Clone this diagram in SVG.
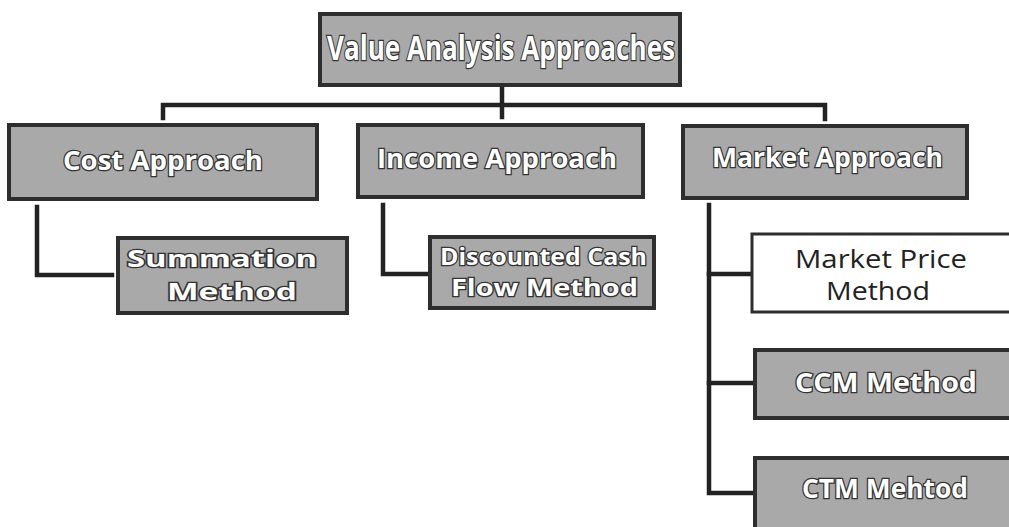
<svg xmlns="http://www.w3.org/2000/svg" width="1009" height="527" viewBox="0 0 1009 527">
<style>
.box{fill:#a9a9a9;stroke:#2e2e2e;stroke-width:4}
.wbox{fill:#ffffff;stroke:#2e2e2e;stroke-width:3}
.lbl{font-family:"Open Sans","Liberation Sans",sans-serif;font-weight:700;fill:#ffffff;stroke:#333333;stroke-width:2.5;paint-order:stroke;text-anchor:start}
.dark{font-family:"Open Sans","Liberation Sans",sans-serif;font-size:25px;fill:#222222;text-anchor:start}
.conn{fill:none;stroke:#222222;stroke-width:4.5;stroke-linejoin:miter;stroke-linecap:square}
</style>
<rect width="1009" height="527" fill="#ffffff"/>
<g id="connectors">
<path class="conn" d="M502,86 V117"/>
<path class="conn" d="M163,118 V105 H825 V119"/>
<path class="conn" d="M37,207 V275 H112"/>
<path class="conn" d="M383,205 V274 H430"/>
<path class="conn" d="M709,205 V493 H752"/>
<path class="conn" d="M709,274 H752"/>
<path class="conn" d="M709,383 H752"/>
</g>
<g id="node-value">
<rect class="box" x="320" y="14" width="360" height="71"/>
<text class="lbl" x="327" y="60" font-size="34" textLength="348" lengthAdjust="spacingAndGlyphs">Value Analysis Approaches</text>
</g>
<g id="node-cost">
<rect class="box" x="9" y="125" width="308" height="74"/>
<text class="lbl" x="63" y="170" font-size="27" textLength="200" lengthAdjust="spacingAndGlyphs">Cost Approach</text>
</g>
<g id="node-income">
<rect class="box" x="358" y="125" width="285" height="72"/>
<text class="lbl" x="377" y="168" font-size="27" textLength="240" lengthAdjust="spacingAndGlyphs">Income Approach</text>
</g>
<g id="node-market">
<rect class="box" x="683" y="126" width="284" height="72"/>
<text class="lbl" x="712" y="167" font-size="27" textLength="231" lengthAdjust="spacingAndGlyphs">Market Approach</text>
</g>
<g id="node-summation">
<rect class="box" x="118" y="238" width="229" height="75"/>
<text class="lbl" x="127" y="267" font-size="23" textLength="190" lengthAdjust="spacingAndGlyphs">Summation</text>
<text class="lbl" x="167" y="300" font-size="23" textLength="130" lengthAdjust="spacingAndGlyphs">Method</text>
</g>
<g id="node-dcf">
<rect class="box" x="430" y="237" width="224" height="71"/>
<text class="lbl" x="440" y="265" font-size="24" textLength="207" lengthAdjust="spacingAndGlyphs">Discounted Cash</text>
<text class="lbl" x="451" y="296" font-size="24" textLength="187" lengthAdjust="spacingAndGlyphs">Flow Method</text>
</g>
<g id="node-marketprice">
<rect class="wbox" x="752" y="234" width="270" height="78"/>
<text class="dark" x="795" y="268" textLength="172" lengthAdjust="spacingAndGlyphs">Market Price</text>
<text class="dark" x="826" y="300" textLength="104" lengthAdjust="spacingAndGlyphs">Method</text>
</g>
<g id="node-ccm">
<rect class="box" x="755" y="350" width="270" height="68"/>
<text class="lbl" x="795" y="392" font-size="26" textLength="182" lengthAdjust="spacingAndGlyphs">CCM Method</text>
</g>
<g id="node-ctm">
<rect class="box" x="755" y="458" width="270" height="80"/>
<text class="lbl" x="802" y="498" font-size="26" textLength="166" lengthAdjust="spacingAndGlyphs">CTM Mehtod</text>
</g>
</svg>
